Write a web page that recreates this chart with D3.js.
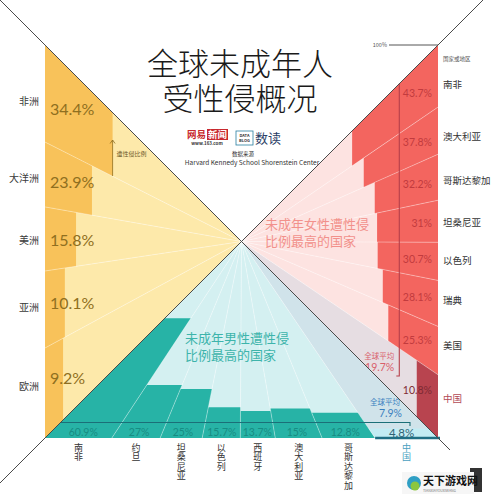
<!DOCTYPE html>
<html>
<head>
<meta charset="utf-8">
<script src="https://cdn.jsdelivr.net/npm/d3@7"></script>
<style>
	body { margin: 0; background: #fff; }
	svg { display: block; }
	text { font-family: "Noto Sans CJK SC", "Noto Sans", sans-serif; }
	.num { font-family: Lato, "Open Sans", sans-serif; }
	.vert { writing-mode: vertical-rl; }
	.tight { font-family: "Liberation Sans", "Noto Sans CJK SC", sans-serif; }
</style>
</head>
<body>
<div id="chart"></div>
<script>
// continents (left, yellow)
const regionNames = ['非洲', '大洋洲', '美洲', '亚洲', '欧洲'];
const regionValues = [34.4, 23.9, 15.8, 10.1, 9.2];

// girls (right, pink)
const femaleCountries = ['南非', '澳大利亚', '哥斯达黎加', '坦桑尼亚', '以色列', '瑞典', '美国', '中国'];
const femaleValues = [43.7, 37.8, 32.2, 31, 30.7, 28.1, 25.3, 10.8];
const femaleAverage = 19.7;

// boys (bottom, teal)
const maleCountries = ['南非', '约旦', '坦桑尼亚', '以色列', '西班牙', '澳大利亚', '哥斯达黎加', '中国'];
const maleValues = [60.9, 27, 25, 15.7, 13.7, 15, 12.8, 4.8];
const maleAverage = 7.9;

// where each row starts along the triangle base (0..1)
const regionCuts = [0, 0.247, 0.412, 0.575, 0.771, 1];
const femaleCuts = [0, 0.158, 0.278, 0.395, 0.502, 0.599, 0.716, 0.839, 1];
const maleCuts = [0, 0.170, 0.293, 0.400, 0.497, 0.586, 0.705, 0.840, 1];

const width = 501;
const height = 500;
const box = { left: 45, right: 438, top: 45, bottom: 438 };
const center = [(box.left + box.right) / 2, (box.top + box.bottom) / 2];
const half = (box.right - box.left) / 2;

// percent -> pixels from the base toward the centre (100% = apex)
const depth = d3.scaleLinear().domain([0, 100]).range([0, half]);

const svg = d3.select('#chart')
	.append('svg')
	.attr('width', width)
	.attr('height', height);

const line = d3.line();
const poly = (pts) => line(pts) + 'Z';
const fmt = (v) => v + '%';

// point on a triangle: u along the base, f toward the apex
function triangle (a, b) {
	return (u, f) => {
		const bx = a[0] + (b[0] - a[0]) * u;
		const by = a[1] + (b[1] - a[1]) * u;
		return [bx + (center[0] - bx) * f, by + (center[1] - by) * f];
	};
}

const yellowPt = triangle([box.left, box.top], [box.left, box.bottom]);
const pinkPt = triangle([box.right, box.top], [box.right, box.bottom]);
const tealPt = triangle([box.left, box.bottom], [box.right, box.bottom]);

function drawTriangle (pt, cuts, values, colors) {
	const g = svg.append('g');
	const rows = values.map((v, i) => ({ v, i, u0: cuts[i], u1: cuts[i + 1] }));
	const last = values.length - 1;

	g.selectAll('path.bg')
		.data(rows)
		.enter()
		.append('path')
		.attr('class', 'bg')
		.attr('d', (d) => poly([pt(d.u0, 0), center, pt(d.u1, 0)]))
		.attr('fill', (d) => d.i === last && colors.specialBg ? colors.specialBg : colors.light);

	g.selectAll('path.bar')
		.data(rows)
		.enter()
		.append('path')
		.attr('class', 'bar')
		.attr('d', (d) => {
			const f = depth(d.v) / half;
			return poly([pt(d.u0, 0), pt(d.u0, f), pt(d.u1, f), pt(d.u1, 0)]);
		})
		.attr('fill', (d) => d.i === last && colors.special ? colors.special : colors.bar);

	// faint rays from the centre
	g.selectAll('line.ray')
		.data(cuts.slice(1, -1))
		.enter()
		.append('line')
		.attr('class', 'ray')
		.attr('x1', (u) => pt(u, 0)[0])
		.attr('y1', (u) => pt(u, 0)[1])
		.attr('x2', center[0])
		.attr('y2', center[1])
		.attr('stroke', '#fff')
		.attr('stroke-opacity', 0.45)
		.attr('stroke-width', 0.8);

	return rows;
}

const midY = (pt, d, f) => (pt(d.u0, f)[1] + pt(d.u1, f)[1]) / 2;
const midX = (pt, d, f) => (pt(d.u0, f)[0] + pt(d.u1, f)[0]) / 2;

// stacked lines of text
function block (x, y, lines, gap, attrs) {
	const g = svg.append('g');
	Object.entries(attrs).forEach(([k, v]) => g.attr(k, v));
	lines.forEach((s, i) => {
		g.append('text')
			.attr('class', 'tight')
			.attr('x', x)
			.attr('y', y + i * gap)
			.text(s);
	});
	return g;
}

// ---- left: continents
const yellowRows = drawTriangle(yellowPt, regionCuts, regionValues, {
	light: '#fde9aa',
	bar: '#f8c25a'
});

svg.append('g')
	.selectAll('text')
	.data(yellowRows)
	.enter()
	.append('text')
	.attr('x', box.left - 6)
	.attr('y', (d) => midY(yellowPt, d, 0.05))
	.attr('dominant-baseline', 'central')
	.attr('text-anchor', 'end')
	.attr('font-size', 10)
	.attr('fill', '#3a3a3a')
	.text((d) => regionNames[d.i]);

svg.append('g')
	.selectAll('text')
	.data(yellowRows)
	.enter()
	.append('text')
	.attr('class', 'num')
	.attr('x', box.left + 5)
	.attr('y', (d) => midY(yellowPt, d, 0.1))
	.attr('dominant-baseline', 'central')
	.attr('font-size', 16)
	.attr('fill', '#8f6f20')
	.text((d) => fmt(d.v));

// little pointer on the first bar
const firstEdge = box.left + depth(regionValues[0]);
svg.append('path')
	.attr('d', `M${firstEdge},176V140M${firstEdge - 2.5},143.5L${firstEdge},140L${firstEdge + 2.5},143.5`)
	.attr('fill', 'none')
	.attr('stroke', '#8f6f20')
	.attr('stroke-width', 0.8);
svg.append('text')
	.attr('x', firstEdge + 4)
	.attr('y', 156)
	.attr('font-size', 6)
	.attr('fill', '#6d5a2a')
	.text('遭性侵比例');

// ---- right: girls
const pinkRows = drawTriangle(pinkPt, femaleCuts, femaleValues, {
	light: '#fde3e1',
	bar: '#f3655f',
	specialBg: '#e6dde2',
	special: '#b8444f'
});

svg.append('g')
	.selectAll('text')
	.data(pinkRows)
	.enter()
	.append('text')
	.attr('x', box.right + 5)
	.attr('y', (d) => midY(pinkPt, d, 0.05))
	.attr('dominant-baseline', 'central')
	.attr('font-size', 9.5)
	.attr('fill', (d) => d.i === pinkRows.length - 1 ? '#b24a55' : '#333')
	.text((d) => femaleCountries[d.i]);

svg.append('g')
	.selectAll('text')
	.data(pinkRows)
	.enter()
	.append('text')
	.attr('class', 'num')
	.attr('x', box.right - 6)
	.attr('y', (d) => midY(pinkPt, d, 0.1))
	.attr('dominant-baseline', 'central')
	.attr('text-anchor', 'end')
	.attr('font-size', 10.5)
	.attr('fill', (d) => d.i === pinkRows.length - 1 ? '#7e2a33' : '#c23b3e')
	.text((d) => fmt(d.v));

// girls average
const fx = box.right - depth(femaleAverage);
const fTop = box.top + (box.right - fx);
svg.append('path')
	.attr('d', `M${fx},${fTop}V376H${fx - 3}`)
	.attr('fill', 'none')
	.attr('stroke', '#b5404b')
	.attr('stroke-width', 1.1);
svg.append('text')
	.attr('x', fx - 5)
	.attr('y', 355)
	.attr('text-anchor', 'end')
	.attr('dominant-baseline', 'central')
	.attr('font-size', 7.5)
	.attr('fill', '#d9606b')
	.text('全球平均');
svg.append('text')
	.attr('class', 'num')
	.attr('x', fx - 5)
	.attr('y', 367)
	.attr('text-anchor', 'end')
	.attr('dominant-baseline', 'central')
	.attr('font-size', 10.5)
	.attr('fill', '#d9606b')
	.text(fmt(femaleAverage));

// ---- bottom: boys
const tealRows = drawTriangle(tealPt, maleCuts, maleValues, {
	light: '#d4f0f1',
	bar: '#27b3a6',
	specialBg: '#d0e3ea',
	special: '#c3ecf3'
});

// china strip along the base
const chinaU = maleCuts[maleCuts.length - 2];
svg.append('line')
	.attr('x1', tealPt(chinaU, 0)[0])
	.attr('x2', box.right + 2)
	.attr('y1', box.bottom)
	.attr('y2', box.bottom)
	.attr('stroke', '#1f6f84')
	.attr('stroke-width', 2.5);

svg.append('g')
	.selectAll('text')
	.data(tealRows)
	.enter()
	.append('text')
	.attr('class', 'num')
	.attr('x', (d) => midX(tealPt, d, 0.03))
	.attr('y', (d) => midY(tealPt, d, 0.03))
	.attr('dominant-baseline', 'central')
	.attr('text-anchor', 'middle')
	.attr('font-size', (d) => d.i === tealRows.length - 1 ? 11.5 : 10.5)
	.attr('fill', (d) => d.i === tealRows.length - 1 ? '#2d6274' : '#178c83')
	.text((d) => fmt(d.v));

// vertical country names
svg.append('g')
	.selectAll('text')
	.data(tealRows)
	.enter()
	.append('text')
	.attr('class', 'vert')
	.attr('x', (d) => midX(tealPt, d, 0))
	.attr('y', box.bottom + 5)
	.attr('font-size', 9)
	.attr('letter-spacing', 0.5)
	.attr('fill', (d) => d.i === tealRows.length - 1 ? '#4a9fc0' : '#333')
	.text((d) => maleCountries[d.i]);

// boys average
const my = box.bottom - depth(maleAverage);
svg.append('path')
	.attr('d', `M${box.left + (box.bottom - my)},${my}H410V${my + 3.5}`)
	.attr('fill', 'none')
	.attr('stroke', '#1b6f78')
	.attr('stroke-width', 1.1);
svg.append('text')
	.attr('x', 400)
	.attr('y', 401)
	.attr('text-anchor', 'end')
	.attr('dominant-baseline', 'central')
	.attr('font-size', 7.5)
	.attr('fill', '#3a80bf')
	.text('全球平均');
svg.append('text')
	.attr('class', 'num')
	.attr('x', 402)
	.attr('y', 413)
	.attr('text-anchor', 'end')
	.attr('dominant-baseline', 'central')
	.attr('font-size', 10.5)
	.attr('fill', '#3a80bf')
	.text(fmt(maleAverage));

// ---- the two diagonals
svg.append('line')
	.attr('x1', 0).attr('y1', 0)
	.attr('x2', 450).attr('y2', 450)
	.attr('stroke', '#4a4a4a')
	.attr('stroke-width', 1);
svg.append('line')
	.attr('x1', box.right + box.top).attr('y1', 0)
	.attr('x2', 0).attr('y2', box.right + box.top)
	.attr('stroke', '#4a4a4a')
	.attr('stroke-width', 1);

// 100% marker
svg.append('line')
	.attr('x1', 389).attr('x2', box.right)
	.attr('y1', box.top).attr('y2', box.top)
	.attr('stroke', '#555')
	.attr('stroke-width', 1);
svg.append('text')
	.attr('x', 387).attr('y', box.top)
	.attr('text-anchor', 'end')
	.attr('dominant-baseline', 'central')
	.attr('font-size', 5.5)
	.attr('fill', '#555')
	.text('100%');
svg.append('text')
	.attr('x', box.right + 5).attr('y', 59)
	.attr('dominant-baseline', 'central')
	.attr('font-size', 5.5)
	.attr('fill', '#555')
	.text('国家或地区');

// ---- titles and notes
block(240, 75, ['全球未成年人', '受性侵概况'], 35, {
	'text-anchor': 'middle',
	'fill': '#1a1a1a',
	'font-weight': 300,
	'font-size': 31
});

// logos
svg.append('text')
	.attr('x', 187).attr('y', 138)
	.attr('font-size', 9.5).attr('font-weight', 700)
	.attr('fill', '#c8282e')
	.text('网易');
svg.append('rect')
	.attr('x', 207).attr('y', 129).attr('width', 21).attr('height', 11)
	.attr('fill', '#c8282e');
svg.append('text')
	.attr('x', 208).attr('y', 138)
	.attr('font-size', 9.5).attr('font-weight', 700)
	.attr('fill', '#fff')
	.text('新闻');
svg.append('text')
	.attr('x', 207).attr('y', 145)
	.attr('text-anchor', 'middle')
	.attr('font-size', 4.5).attr('font-weight', 700)
	.attr('fill', '#333')
	.text('www.163.com');
svg.append('rect')
	.attr('x', 236).attr('y', 131).attr('width', 17).attr('height', 14)
	.attr('fill', '#fff')
	.attr('stroke', '#2a7fa0')
	.attr('stroke-width', 0.8);
svg.append('text')
	.attr('x', 244.5).attr('y', 137)
	.attr('text-anchor', 'middle')
	.attr('font-size', 4).attr('font-weight', 700)
	.attr('fill', '#333')
	.text('DATA');
svg.append('text')
	.attr('x', 244.5).attr('y', 142)
	.attr('text-anchor', 'middle')
	.attr('font-size', 4).attr('font-weight', 700)
	.attr('fill', '#333')
	.text('BLOG');
svg.append('text')
	.attr('x', 255).attr('y', 143)
	.attr('font-size', 13)
	.attr('fill', '#2b3e66')
	.text('数读');
svg.append('text')
	.attr('x', 243).attr('y', 156)
	.attr('text-anchor', 'middle')
	.attr('font-size', 5.5)
	.attr('fill', '#333')
	.text('数据来源');
svg.append('text')
	.attr('x', 252).attr('y', 164.5)
	.attr('text-anchor', 'middle')
	.attr('font-size', 6.5)
	.attr('font-family', '"Liberation Sans", sans-serif')
	.attr('fill', '#333')
	.text('Harvard Kennedy School Shorenstein Center');

// callouts
block(265, 229, ['未成年女性遭性侵', '比例最高的国家'], 17, {
	'font-size': 13,
	'fill': '#f2918b'
});
block(185, 343, ['未成年男性遭性侵', '比例最高的国家'], 17, {
	'font-size': 13,
	'fill': '#3db4ab'
});

// watermark
const wm = svg.append('g');
wm.append('rect')
	.attr('x', 470).attr('y', 468).attr('width', 12).attr('height', 24)
	.attr('fill', '#333');
wm.append('rect')
	.attr('x', 402).attr('y', 472).attr('width', 72).attr('height', 22)
	.attr('fill', '#f6f6f6');
wm.append('circle')
	.attr('cx', 414).attr('cy', 483).attr('r', 7)
	.attr('fill', '#2f9fc4');
wm.append('circle')
	.attr('cx', 415).attr('cy', 486).attr('r', 4.5)
	.attr('fill', '#8cc63f');
wm.append('text')
	.attr('x', 423).attr('y', 485)
	.attr('font-size', 11).attr('font-weight', 700)
	.attr('fill', '#111')
	.text('天下游戏网');
wm.append('text')
	.attr('x', 423).attr('y', 491.5)
	.attr('font-size', 3.5)
	.attr('fill', '#777')
	.text('TIANXIAYOUXIWANG');
</script>
</body>
</html>
